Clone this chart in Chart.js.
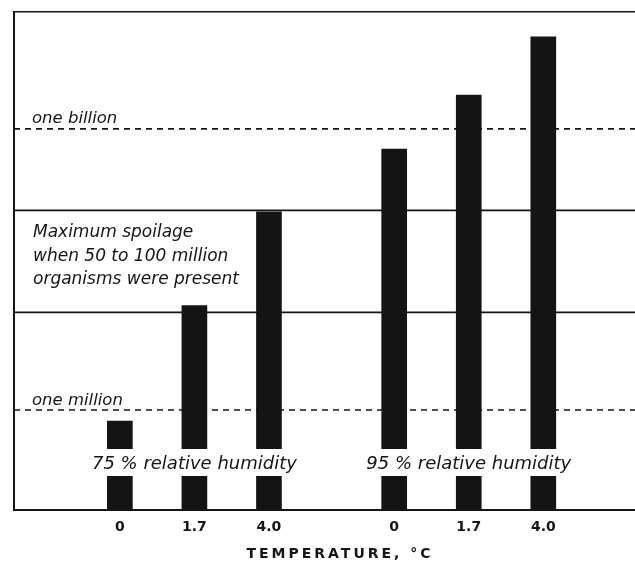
<!DOCTYPE html>
<html>
<head>
<meta charset="utf-8">
<script src="https://cdn.jsdelivr.net/npm/chart.js@4.4.1/dist/chart.umd.min.js"></script>
<style>
  html, body { margin: 0; padding: 0; background: #fff; }
  #wrap { width: 635px; height: 562px; }
</style>
</head>
<body>
<div id="wrap"><canvas id="spoilage" width="635" height="562"></canvas></div>
<script>
// temperatures in °C, one bar per temperature and humidity group
const temperatures = ['0', '1.7', '4.0'];
const humidityLabels = ['75 % relative humidity', '95 % relative humidity'];
const organisms75 = [7.6e5, 1.3e7, 1.3e8];
const organisms95 = [6.1e8, 2.3e9, 9.6e9];

// reference levels (organisms)
const oneBillion = 1e9;
const oneMillion = 1e6;
const spoilageLow = 1.1e7;
const spoilageHigh = 1.35e8;
const spoilageText = ['Maximum spoilage', 'when 50 to 100 million', 'organisms were present'];

const groupGap = 3.68; // distance between the first bars of both groups, in bar slots
const xMin = -1.42, xMax = 6.91;
const yMin = 8.55e4, yMax = 1.77e10;

const positions = [];
const tickLabels = [];
[organisms75, organisms95].forEach((g, gi) => {
  g.forEach((v, i) => { positions.push(gi * groupGap + i); tickLabels.push(temperatures[i]); });
});
const barData = organisms75.concat(organisms95).map((v, i) => ({ x: positions[i], y: v }));

function refLine(value, dashed) {
  return {
    type: 'line',
    data: [{ x: xMin, y: value }, { x: xMax, y: value }],
    borderColor: '#151515',
    borderWidth: 1.6,
    borderDash: dashed ? [6, 5] : [],
    pointRadius: 0,
    fill: false,
    order: 2
  };
}

const notes = {
  id: 'notes',
  afterDatasetsDraw(chart) {
    const { ctx, chartArea: a, scales: { x, y } } = chart;
    ctx.save();
    // white band that cuts through the bars
    ctx.fillStyle = '#fff';
    ctx.fillRect(a.left + 2, a.bottom - 61, a.right - a.left, 27);

    ctx.fillStyle = '#151515';
    ctx.font = 'italic 18px "DejaVu Sans"';
    ctx.textAlign = 'center';
    ctx.textBaseline = 'middle';
    humidityLabels.forEach((t, g) => ctx.fillText(t, x.getPixelForValue(g * groupGap + 1), a.bottom - 46));

    ctx.textAlign = 'left';
    ctx.textBaseline = 'alphabetic';
    ctx.font = 'italic 16.5px "DejaVu Sans"';
    ctx.fillText('one billion', a.left + 18, y.getPixelForValue(oneBillion) - 6);
    ctx.fillText('one million', a.left + 18, y.getPixelForValue(oneMillion) - 5);
    ctx.font = 'italic 17px "DejaVu Sans"';
    spoilageText.forEach((t, i) => {
      ctx.fillText(t, a.left + 19, y.getPixelForValue(spoilageHigh) + 27 + i * 23.5);
    });

    // axis title
    ctx.font = 'bold 14px "DejaVu Sans"';
    ctx.letterSpacing = '3px';
    ctx.textAlign = 'center';
    ctx.fillText('TEMPERATURE, °C', 340, 558);
    ctx.letterSpacing = '0px';
    ctx.restore();
  }
};

new Chart(document.getElementById('spoilage'), {
  type: 'bar',
  data: {
    datasets: [
      {
        data: barData,
        backgroundColor: '#141414',
        barThickness: 25,
        order: 1
      },
      refLine(oneBillion, true),
      refLine(spoilageHigh, false),
      refLine(spoilageLow, false),
      refLine(oneMillion, true)
    ]
  },
  options: {
    responsive: false,
    animation: false,
    layout: { padding: { left: 14, top: 12, right: 0, bottom: 12 } },
    plugins: { legend: { display: false }, tooltip: { enabled: false } },
    scales: {
      x: {
        type: 'linear',
        offset: false,
        min: xMin,
        max: xMax,
        grid: { display: false, drawTicks: false, offset: false },
        border: { color: '#151515', width: 2 },
        afterBuildTicks: (scale) => { scale.ticks = positions.map(v => ({ value: v })); },
        afterFit: (scale) => { scale.height = 40; },
        ticks: {
          padding: 9,
          color: '#151515',
          font: { family: 'DejaVu Sans', weight: 'bold', size: 14 },
          callback: (value, index) => tickLabels[index]
        }
      },
      xTop: {
        type: 'linear',
        position: 'top',
        offset: false,
        min: xMin,
        max: xMax,
        grid: { display: false, drawTicks: false },
        ticks: { display: false },
        border: { color: '#151515', width: 1.5 },
        afterFit: (scale) => { scale.height = 0; }
      },
      y: {
        type: 'logarithmic',
        min: yMin,
        max: yMax,
        grid: { display: false, drawTicks: false },
        ticks: { display: false },
        border: { color: '#151515', width: 2 },
        afterFit: (scale) => { scale.width = 0; }
      }
    }
  },
  plugins: [notes]
});
</script>
</body>
</html>
